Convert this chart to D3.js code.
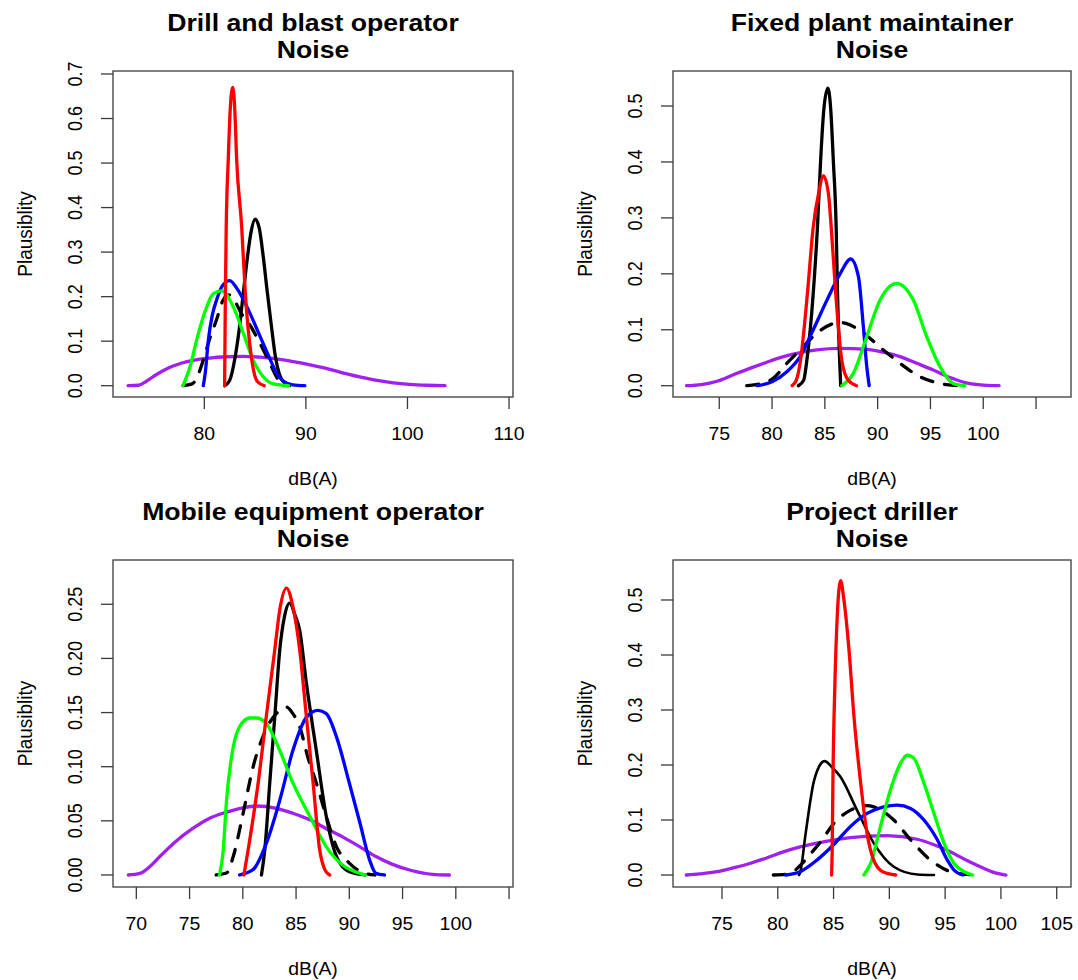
<!DOCTYPE html>
<html>
<head>
<meta charset="utf-8">
<script src="https://cdn.jsdelivr.net/npm/d3@7/dist/d3.min.js"></script>
<style>
  body { margin: 0; background: #fff; }
  text { font-family: "Liberation Sans", Arial, sans-serif; fill: #000; }
</style>
</head>
<body>
<svg id="chart" width="1078" height="980"></svg>
<script>
// plausibility curves, points are [dB(A), plausibility]

// drill and blast operator
var drillPurple = [[72.5,0],[73.5,0.001],[74.3,0.01],[75.0,0.021],[75.8,0.032],[76.8,0.043],[77.8,0.051],[78.9,0.057],[80.5,0.062],[82.2,0.065],[83.8,0.066],[85.5,0.064],[87.1,0.06],[88.75,0.054],[90.4,0.047],[92.0,0.039],[93.6,0.029],[95.3,0.02],[97.0,0.012],[98.6,0.0065],[100.2,0.003],[101.9,0.001],[103.7,0]];
var drillDashed = [[77.9,0],[78.8,0.004],[79.4,0.025],[79.9,0.058],[80.6,0.11],[81.2,0.148],[81.8,0.19],[82.4,0.204],[83.0,0.19],[83.7,0.16],[84.5,0.136],[85.3,0.103],[86.3,0.058],[87.3,0.013],[88.2,0]];
var drillBlack = [[82.0,0],[82.5,0.012],[83.0,0.06],[83.4,0.12],[83.8,0.2],[84.2,0.28],[84.6,0.345],[85.0,0.374],[85.4,0.355],[85.8,0.29],[86.2,0.21],[86.6,0.135],[87.0,0.065],[87.4,0.025],[87.9,0.006],[88.4,0]];
var drillBlue = [[79.9,0],[80.1,0.03],[80.4,0.103],[80.8,0.16],[81.2,0.192],[81.8,0.225],[82.5,0.236],[83.3,0.215],[84.2,0.177],[85.5,0.11],[86.5,0.058],[87.2,0.025],[87.8,0.01],[88.7,0.002],[89.9,0]];
var drillGreen = [[77.9,0],[78.6,0.043],[79.25,0.103],[79.9,0.155],[80.9,0.207],[81.7,0.213],[82.86,0.177],[83.84,0.118],[84.8,0.058],[85.8,0.02],[86.8,0.004],[88.3,0]];
var drillRed = [[82.0,0],[82.07,0.2],[82.16,0.36],[82.36,0.51],[82.55,0.62],[82.8,0.67],[83.0,0.62],[83.18,0.51],[83.67,0.36],[84.03,0.21],[84.66,0.06],[85.2,0.01],[85.9,0]];

// fixed plant maintainer
var plantPurple = [[71.9,0],[73.3,0.002],[74.8,0.008],[76.4,0.02],[77.9,0.031],[79.5,0.042],[81.1,0.052],[82.7,0.059],[84.24,0.064],[86.44,0.0667],[88.97,0.065],[90.5,0.06],[92.12,0.052],[93.7,0.04],[95.27,0.028],[96.8,0.015],[98.4,0.005],[100.0,0.001],[101.5,0]];
var plantDashed = [[77.6,0],[78.8,0.003],[80.1,0.013],[81.4,0.04],[82.66,0.064],[84.24,0.094],[85.8,0.111],[86.5,0.113],[87.07,0.111],[88.65,0.094],[90.54,0.064],[92.12,0.04],[94.0,0.016],[95.27,0.007],[96.5,0.002],[97.8,0]];
var plantBlack = [[82.5,0],[83.0,0.01],[83.3,0.046],[83.9,0.165],[84.3,0.284],[84.6,0.403],[84.9,0.493],[85.28,0.532],[85.56,0.493],[85.8,0.403],[86.07,0.284],[86.2,0.165],[86.4,0.046],[86.5,0]];
var plantBlue = [[78.6,0],[80.0,0.007],[81.4,0.025],[82.66,0.052],[83.9,0.1],[85.2,0.153],[86.44,0.2],[87.45,0.2265],[88.18,0.195],[88.65,0.105],[88.97,0.034],[89.2,0]];
var plantGreen = [[86.6,0],[87.7,0.022],[88.97,0.088],[90.23,0.153],[91.0,0.175],[91.8,0.183],[92.6,0.175],[93.38,0.153],[94.64,0.088],[95.9,0.034],[97.16,0.004],[98.27,0]];
var plantRed = [[81.9,0],[82.3,0.01],[82.7,0.046],[83.35,0.165],[83.9,0.284],[84.4,0.343],[84.87,0.375],[85.34,0.343],[85.6,0.284],[86.03,0.165],[86.6,0.046],[87.2,0.01],[88.0,0]];

// mobile equipment operator
var mobilePurple = [[69.25,0],[70.34,0.0015],[71.3,0.008],[72.2,0.017],[73.7,0.031],[75.3,0.043],[76.8,0.052],[78.47,0.058],[80.0,0.062],[81.28,0.0637],[83.16,0.0616],[84.7,0.057],[86.3,0.051],[87.8,0.043],[89.4,0.035],[91.0,0.026],[92.5,0.017],[94.0,0.01],[95.66,0.0046],[97.8,0.0006],[99.4,0]];
var mobileDashed = [[77.5,0],[78.5,0.002],[79.1,0.017],[80.03,0.057],[80.97,0.1],[81.9,0.128],[82.8,0.145],[83.5,0.152],[84.1,0.155],[84.7,0.149],[85.34,0.137],[86.1,0.109],[86.9,0.085],[87.84,0.054],[88.8,0.026],[90.0,0.011],[91.3,0.002],[92.4,0]];
var mobileBlack = [[81.75,0],[82.06,0.023],[82.53,0.085],[83.0,0.146],[83.47,0.208],[83.9,0.238],[84.4,0.251],[84.9,0.24],[85.34,0.226],[85.97,0.177],[86.9,0.115],[87.84,0.054],[88.8,0.017],[90.0,0.003],[91.5,0]];
var mobileBlue = [[79.7,0],[80.97,0.005],[82.2,0.029],[83.47,0.069],[84.7,0.115],[86.0,0.146],[87.06,0.152],[87.84,0.149],[88.78,0.128],[90.0,0.085],[91.0,0.048],[91.9,0.014],[92.5,0.0015],[93.3,0]];
var mobileGreen = [[77.8,0],[78.16,0.023],[78.47,0.069],[78.94,0.109],[79.7,0.137],[80.66,0.145],[81.28,0.145],[82.2,0.14],[83.47,0.115],[84.7,0.085],[86.3,0.054],[87.84,0.026],[89.4,0.009],[91.0,0.0015],[91.5,0]];
var mobileRed = [[80.1,0],[80.5,0.023],[81.44,0.085],[82.2,0.146],[83.0,0.208],[83.47,0.245],[84.1,0.265],[84.7,0.248],[85.34,0.208],[85.97,0.146],[86.6,0.085],[87.22,0.023],[87.7,0.005],[88.16,0]];

// project driller
var drillerPurple = [[71.8,0],[73.0,0.002],[74.55,0.006],[76.0,0.013],[77.5,0.021],[79.0,0.031],[80.5,0.042],[82.0,0.051],[83.5,0.058],[86.5,0.068],[89.8,0.0715],[92.5,0.065],[94.0,0.055],[95.5,0.042],[97.0,0.026],[98.5,0.012],[99.5,0.004],[100.45,0]];
var drillerDashed = [[79.6,0],[81.0,0.002],[82.04,0.018],[83.0,0.04],[83.83,0.06],[85.03,0.094],[86.53,0.118],[88.0,0.126],[88.6,0.124],[90.4,0.1],[91.9,0.064],[93.7,0.027],[95.8,0.004],[97.0,0.001],[98.2,0]];
var drillerBlack = [[81.9,0],[82.0,0.004],[82.5,0.076],[83.2,0.167],[83.7,0.197],[84.2,0.207],[84.9,0.195],[85.6,0.179],[87.1,0.118],[88.6,0.058],[90.4,0.015],[92.5,0.001],[94.0,0]];
var drillerBlue = [[80.7,0],[82.0,0.006],[83.5,0.027],[85.0,0.055],[86.5,0.088],[88.0,0.112],[89.5,0.124],[90.7,0.127],[91.9,0.121],[93.1,0.1],[94.3,0.064],[95.2,0.027],[95.8,0.009],[96.56,0]];
var drillerGreen = [[87.72,0],[88.32,0.021],[89.2,0.088],[90.1,0.155],[91.0,0.203],[91.6,0.218],[92.2,0.212],[93.1,0.167],[94.0,0.112],[94.9,0.058],[95.8,0.021],[96.7,0.006],[97.46,0]];
var drillerRed = [[84.82,0],[84.88,0.05],[84.94,0.167],[85.12,0.348],[85.33,0.47],[85.63,0.535],[85.93,0.5],[86.38,0.41],[86.83,0.288],[87.43,0.167],[88.0,0.076],[88.6,0.027],[89.4,0.006],[90.57,0]];

var titles = ["Drill and blast operator", "Fixed plant maintainer", "Mobile equipment operator", "Project driller"];
var subtitle = "Noise";
var xTicks = [
  [80, 90, 100, 110],
  [75, 80, 85, 90, 95, 100, 105],
  [70, 75, 80, 85, 90, 95, 100, 105],
  [75, 80, 85, 90, 95, 100, 105]
];
// ticks without a printed label
var xTicksUnlabelled = [[], [105], [105], []];
var yTicks = [
  [0, 0.1, 0.2, 0.3, 0.4, 0.5, 0.6, 0.7],
  [0, 0.1, 0.2, 0.3, 0.4, 0.5],
  [0, 0.05, 0.10, 0.15, 0.20, 0.25],
  [0, 0.1, 0.2, 0.3, 0.4, 0.5]
];
var yFormats = [".1f", ".1f", ".2f", ".1f"];

var seriesStyle = [
  {color: "#a020f0", dash: null},
  {color: "#000000", dash: "12,12"},
  {color: "#000000", dash: null},
  {color: "#0000ff", dash: null},
  {color: "#00ff00", dash: null},
  {color: "#ff0000", dash: null}
];
var panelSeries = [
  [drillPurple, drillDashed, drillBlack, drillBlue, drillGreen, drillRed],
  [plantPurple, plantDashed, plantBlack, plantBlue, plantGreen, plantRed],
  [mobilePurple, mobileDashed, mobileBlack, mobileBlue, mobileGreen, mobileRed],
  [drillerPurple, drillerDashed, drillerBlack, drillerBlue, drillerGreen, drillerRed]
];
// the solid black curve of the last panel is drawn a bit thinner
var blackWidth = [3.3, 3.3, 3.3, 2.6];

// plot boxes and the axis limits at the box edges
var panels = [
  {left: 113, right: 513, top: 71, bottom: 397, xlim: [71.01, 110.39], ylim: [-0.0254, 0.7067]},
  {left: 673, right: 1071, top: 71, bottom: 397, xlim: [70.62, 108.31], ylim: [-0.0202, 0.5626]},
  {left: 113, right: 513, top: 560, bottom: 887, xlim: [67.81, 105.37], ylim: [-0.0111, 0.2909]},
  {left: 673, right: 1071, top: 560, bottom: 887, xlim: [70.61, 106.28], ylim: [-0.0218, 0.5727]}
];

var svg = d3.select("#chart");
svg.append("rect").attr("width", 1078).attr("height", 980).attr("fill", "#fff");

function hText(g, x, y, str, size, weight, stretch) {
  g.append("text")
    .attr("transform", "translate(" + x + "," + y + ") scale(" + (stretch || 1.08) + ",1)")
    .attr("text-anchor", "middle")
    .style("font-size", size + "px")
    .style("font-weight", weight || "normal")
    .text(str);
}
function vText(g, x, y, str, size) {
  g.append("text")
    .attr("transform", "translate(" + x + "," + y + ") scale(1.08,1) rotate(-90)")
    .attr("text-anchor", "middle")
    .style("font-size", size + "px")
    .text(str);
}

panels.forEach(function(p, i) {
  var g = svg.append("g");
  var x = d3.scaleLinear().domain(p.xlim).range([p.left, p.right]);
  var y = d3.scaleLinear().domain(p.ylim).range([p.bottom, p.top]);
  var cx = (p.left + p.right) / 2;
  var cy = (p.top + p.bottom) / 2;

  // curves, clipped to the box
  var clipId = "clip" + i;
  g.append("clipPath").attr("id", clipId)
    .append("rect").attr("x", p.left).attr("y", p.top)
    .attr("width", p.right - p.left).attr("height", p.bottom - p.top);

  var line = d3.line()
    .x(function(d) { return x(d[0]); })
    .y(function(d) { return y(d[1]); })
    .curve(d3.curveMonotoneX);

  var curves = g.append("g").attr("clip-path", "url(#" + clipId + ")");
  panelSeries[i].forEach(function(s, k) {
    curves.append("path")
      .datum(s)
      .attr("d", line)
      .attr("fill", "none")
      .attr("stroke", seriesStyle[k].color)
      .attr("stroke-width", k === 2 ? blackWidth[i] : 3.3)
      .attr("stroke-linecap", "round")
      .attr("stroke-linejoin", "round")
      .attr("stroke-dasharray", seriesStyle[k].dash);
  });

  // box
  g.append("rect")
    .attr("x", p.left).attr("y", p.top)
    .attr("width", p.right - p.left).attr("height", p.bottom - p.top)
    .attr("fill", "none").attr("stroke", "#3a3a3a").attr("stroke-width", 1.3);

  // x axis
  var xt = xTicks[i];
  g.selectAll(".xtick").data(xt).enter().append("line")
    .attr("x1", function(d) { return x(d); }).attr("x2", function(d) { return x(d); })
    .attr("y1", p.bottom).attr("y2", p.bottom + 12)
    .attr("stroke", "#3a3a3a").attr("stroke-width", 1.3);
  xt.forEach(function(d) {
    if (xTicksUnlabelled[i].indexOf(d) < 0) hText(g, x(d), p.bottom + 43, String(d), 18);
  });

  // y axis
  var yt = yTicks[i];
  var fmt = d3.format(yFormats[i]);
  g.selectAll(".ytick").data(yt).enter().append("line")
    .attr("y1", function(d) { return y(d); }).attr("y2", function(d) { return y(d); })
    .attr("x1", p.left).attr("x2", p.left - 12)
    .attr("stroke", "#3a3a3a").attr("stroke-width", 1.3);
  yt.forEach(function(d) {
    vText(g, p.left - 31, y(d), fmt(d), 18);
  });

  // titles and axis labels
  hText(g, cx, p.top - 40, titles[i], 24, "bold", 1.11);
  hText(g, cx, p.top - 13, subtitle, 24, "bold", 1.11);
  hText(g, cx, p.bottom + 88, "dB(A)", 18);
  vText(g, p.left - 81, cy, "Plausiblity", 19);
});
</script>
</body>
</html>
